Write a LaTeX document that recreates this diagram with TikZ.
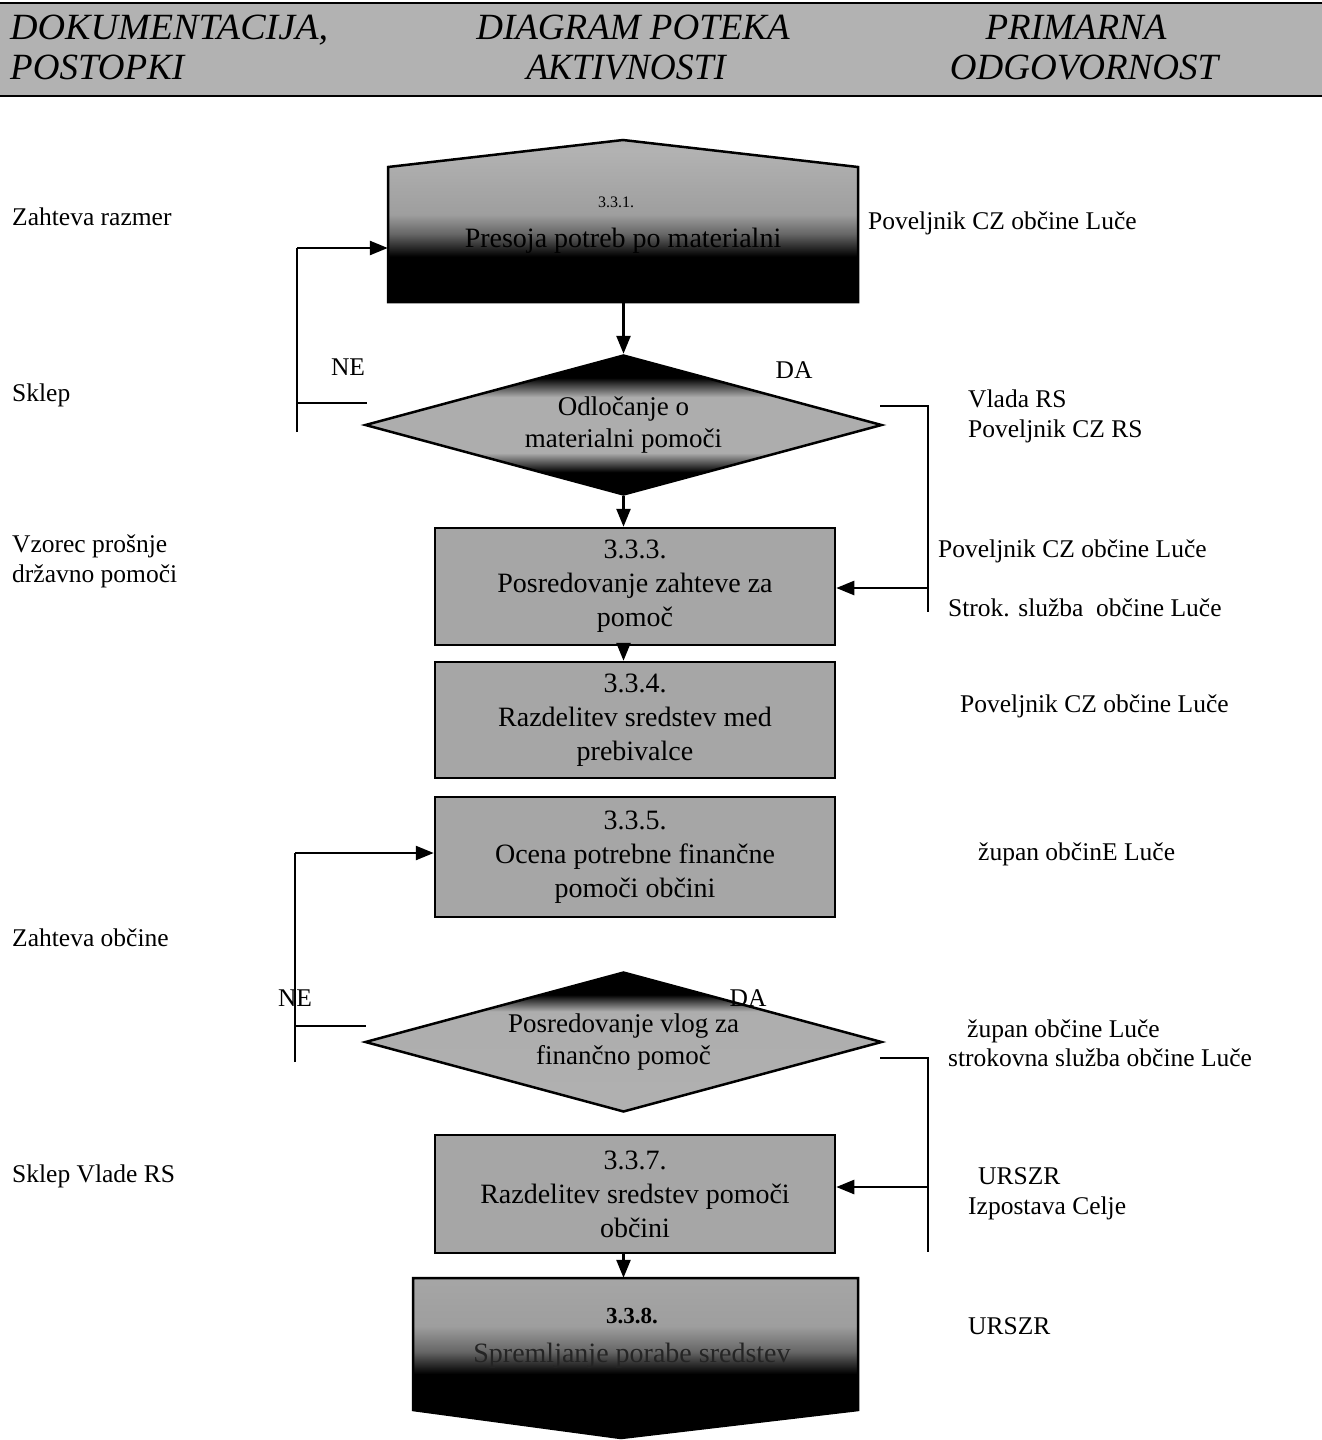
\documentclass[tikz,border=0pt]{standalone}
\usepackage{fontspec}
\setmainfont{Liberation Serif}
\usetikzlibrary{arrows.meta,shapes.geometric}
\pgfdeclareverticalshading{topshade}{100bp}{color(0bp)=(black); color(39bp)=(black); color(46bp)=(black!60); color(52bp)=(black!38); color(72bp)=(black!30); color(100bp)=(black!45)}
\pgfdeclareverticalshading{botshade}{100bp}{color(0bp)=(black); color(45bp)=(black); color(52bp)=(black!60); color(60bp)=(black!38); color(100bp)=(black!30)}
\pgfdeclareverticalshading{dshadeA}{100bp}{color(0bp)=(black); color(33bp)=(black); color(40bp)=(black!32); color(60bp)=(black!32); color(67bp)=(black); color(100bp)=(black)}
\pgfdeclareverticalshading{dshadeB}{100bp}{color(0bp)=(black!30); color(61bp)=(black!32); color(67bp)=(black); color(100bp)=(black)}
\begin{document}
\begin{tikzpicture}[x=1pt,y=-1pt,
  lbl/.style={anchor=base west, inner sep=0, font=\fontsize{25.5}{30}\selectfont},
  hdr/.style={inner sep=0, font=\fontsize{37}{40}\selectfont\itshape},
  procbox/.style={draw, line width=2.5, fill=black!35, minimum width=400, minimum height=117, inner sep=0, align=center, font=\fontsize{28}{34}\selectfont},
  decbox/.style={diamond, draw, line width=2.5, shade, aspect=3.7, minimum width=517, minimum height=140, inner sep=0, align=center, font=\fontsize{27}{32}\selectfont},
  conn/.style={line width=2.5},
  arr/.style={line width=2.5, -{Triangle[length=18pt,width=14pt]}},
  yn/.style={anchor=base, inner sep=0, font=\fontsize{25.5}{30}\selectfont}]
\useasboundingbox (0,0) rectangle (1322,1440);
% header band
\fill[black!30] (0,3) rectangle (1322,96);
\draw[line width=2] (0,3) -- (1322,3);
\draw[line width=2] (0,96) -- (1322,96);
\node[hdr, anchor=base west, xscale=1.03] (h1a) at (10,39) {DOKUMENTACIJA,};
\node[hdr, anchor=base west] (h1b) at (10,79) {POSTOPKI};
\node[hdr, anchor=base] (h2a) at (633,39) {DIAGRAM POTEKA};
\node[hdr, anchor=base, xscale=0.97] (h2b) at (626,79) {AKTIVNOSTI};
\node[hdr, anchor=base] (h3a) at (1076,39) {PRIMARNA};
\node[hdr, anchor=base] (h3b) at (1084,79) {ODGOVORNOST};

% top box 3.3.1
\shade[shading=topshade, draw, line width=2.5] (388,167) -- (623,140) -- (858,167) -- (858,302) -- (388,302) -- cycle;
\node[minimum width=470, minimum height=135, inner sep=0] (b1) at (623,234.5) {};
\node[anchor=base, inner sep=0, font=\fontsize{16}{18}\selectfont] (b1n) at (616,207) {3.3.1.};
\node[anchor=base, inner sep=0, font=\fontsize{28}{34}\selectfont] (b1t) at (623,247) {Presoja potreb po materialni};

% diamond 1
\node[decbox, shading=dshadeA] (d1) at (623.5,425) {Odločanje o\\materialni pomoči};

% boxes
\node[procbox] (b3) at (635,586.5) {3.3.3.\\Posredovanje zahteve za\\pomoč};
\node[procbox, minimum height=116] (b4) at (635,720) {3.3.4.\\Razdelitev sredstev med\\prebivalce};
\node[procbox, minimum height=120] (b5) at (635,857) {3.3.5.\\Ocena potrebne finančne\\pomoči občini};

% diamond 2
\node[decbox, shading=dshadeB] (d2) at (623.5,1042) {Posredovanje vlog za\\finančno pomoč};

\node[procbox, minimum height=118] (b7) at (635,1194) {3.3.7.\\Razdelitev sredstev pomoči\\občini};

% bottom box 3.3.8
\shade[shading=botshade, draw, line width=2.5] (413,1278) -- (858,1278) -- (858,1410) -- (621,1438) -- (413,1410) -- cycle;
\node[minimum width=445, minimum height=132, inner sep=0] (b8) at (635.5,1344) {};
\node[anchor=base, inner sep=0, font=\fontsize{23}{26}\selectfont\bfseries] (b8n) at (632,1323) {3.3.8.};
\node[anchor=base, inner sep=0, text=black!86, font=\fontsize{28}{34}\selectfont] (b8t) at (632,1362) {Spremljanje porabe sredstev};

% vertical flow
\draw[arr] (b1.south -| d1.north) -- (d1.north);
\draw[arr] (d1.south) -- (d1.south |- b3.north);
\draw[arr] (b3.south -| d1.south) -- (b4.north -| d1.south);
\draw[arr] (b7.south -| d2.south) -- (b8.north -| d2.south);

% NE loop 1
\coordinate (l1top) at (297,248);
\coordinate (l1bot) at (297,432);
\coordinate (l1s) at (297,403);
\coordinate (l1e) at (367,403);
\draw[conn] (l1bot) -- (l1top);
\draw[arr] (l1top) -- (l1top -| b1.west);
\draw[conn] (l1s) -- (l1e);

% DA line 1
\coordinate (r1a) at (880,406);
\coordinate (r1b) at (928,406);
\coordinate (r1c) at (928,612);
\coordinate (r1d) at (928,588);
\draw[conn] (r1a) -- (r1b) -- (r1c);
\draw[arr] (r1d) -- (r1d -| b3.east);

% NE loop 2
\coordinate (l2top) at (295,853);
\coordinate (l2bot) at (295,1062);
\coordinate (l2s) at (295,1026);
\coordinate (l2e) at (366,1026);
\draw[conn] (l2bot) -- (l2top);
\draw[arr] (l2top) -- (l2top -| b5.west);
\draw[conn] (l2s) -- (l2e);

% DA line 2
\coordinate (r2a) at (880,1058);
\coordinate (r2b) at (928,1058);
\coordinate (r2c) at (928,1252);
\coordinate (r2d) at (928,1187);
\draw[conn] (r2a) -- (r2b) -- (r2c);
\draw[arr] (r2d) -- (r2d -| b7.east);

% NE / DA labels
\node[yn] (ne1) at (348,375) {NE};
\node[yn] (da1) at (794,378) {DA};
\node[yn] (ne2) at (295,1006) {NE};
\node[yn] (da2) at (748,1006) {DA};

% left column
\node[lbl] (la) at (12,225) {Zahteva razmer};
\node[lbl] (lb) at (12,401) {Sklep};
\node[lbl] (lc) at (12,552) {Vzorec prošnje};
\node[lbl] (ld) at (12,582) {državno pomoči};
\node[lbl] (le) at (12,946) {Zahteva občine};
\node[lbl] (lf) at (12,1182) {Sklep Vlade RS};

% right column
\node[lbl] (ra) at (868,229) {Poveljnik CZ občine Luče};
\node[lbl] (rb) at (968,407) {Vlada RS};
\node[lbl] (rc) at (968,437) {Poveljnik CZ RS};
\node[lbl] (rd) at (938,557) {Poveljnik CZ občine Luče};
\node[lbl] (re) at (948,616) {Strok. služba\ \ občine Luče};
\node[lbl] (rf) at (960,712) {Poveljnik CZ občine Luče};
\node[lbl] (rg) at (978,860) {župan občinE Luče};
\node[lbl] (rh) at (967,1037) {župan občine Luče};
\node[lbl] (ri) at (948,1066) {strokovna služba občine Luče};
\node[lbl] (rj) at (978,1184) {URSZR};
\node[lbl] (rk) at (968,1214) {Izpostava Celje};
\node[lbl] (rl) at (968,1334) {URSZR};
\end{tikzpicture}
\end{document}
